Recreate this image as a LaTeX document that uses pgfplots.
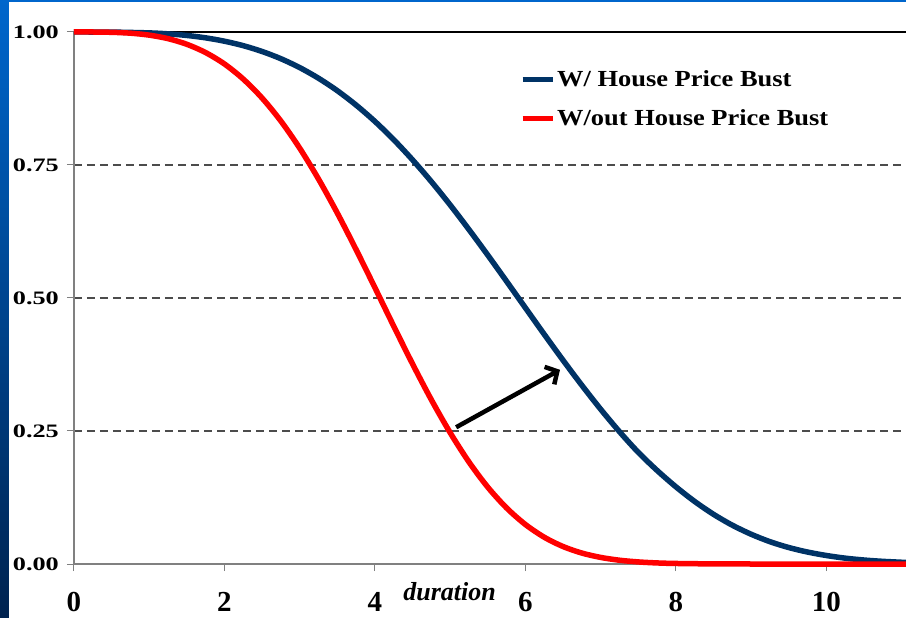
\documentclass[border=0pt]{standalone}
\usepackage{fontspec}
\setmainfont{Liberation Serif}
\usepackage{graphicx}
\usepackage{pgfplots}
\pgfplotsset{compat=1.18}
\usetikzlibrary{arrows.meta}
\definecolor{bustblue}{RGB}{0,51,102}
\definecolor{bustred}{RGB}{255,0,0}
\definecolor{slideblue}{RGB}{0,102,204}
\definecolor{slidedark}{RGB}{0,35,80}
\begin{document}
\begin{tikzpicture}
\fill[white] (-74bp,-54bp) rectangle (832bp,564bp);
\shade[top color=slideblue, bottom color=slidedark] (-74bp,-54bp) rectangle (-65bp,564bp);
\fill[slideblue] (-74bp,562bp) rectangle (832bp,564bp);
\begin{axis}[
  at={(0,0)}, anchor=south west,
  scale only axis, width=832bp, height=532bp,
  xmin=0, xmax=11.06, ymin=0, ymax=1,
  clip=false,
  axis x line*=bottom, axis y line*=left,
  axis line style={-, draw=gray, line width=1.5bp},
  xtick={0,2,4,6,8,10}, ytick={0,0.25,0.5,0.75,1},
  tick align=outside, major tick length=7bp,
  tick style={draw=gray, line width=1bp},
  ymajorgrids,
  grid style={dash pattern=on 8bp off 5bp, draw=black!70, line width=1.3bp},
  /pgf/number format/assume math mode=true,
  yticklabel={\scalebox{1.38}[1]{\pgfmathprintnumber[fixed,fixed zerofill,precision=2]{\tick}}},
  yticklabel style={font=\fontsize{19bp}{19bp}\selectfont\bfseries, anchor=east, inner sep=0pt, xshift=-8bp},
  xticklabel style={font=\fontsize{29bp}{29bp}\selectfont\bfseries, anchor=base, inner sep=0pt, yshift=-40bp},
  xlabel={\textit{duration}},
  xlabel style={at={(rel axis cs:0.4515,0)}, anchor=base, inner sep=0pt, yshift=-36bp, font=\fontsize{26bp}{26bp}\selectfont\bfseries},
  legend cell align=left,
  legend style={at={(rel axis cs:0.536,0.932)}, anchor=north west, draw=none, fill=none, inner sep=0pt,
    font=\fontsize{23bp}{23bp}\selectfont\bfseries, row sep=18bp},
  legend image code/.code={\draw[line width=5bp] (0bp,0bp) -- (30bp,0bp);},
]
\draw[black, line width=1.8bp] (axis cs:0,1) -- (axis cs:11.06,1);
\addplot[color=bustblue, line width=5.5bp, smooth] coordinates {
(0,1)(0.5,0.9998)(1,0.9983)(1.25,0.9965)(1.5,0.9935)(1.75,0.9890)(2,0.9827)(2.25,0.9743)(2.5,0.9634)(2.75,0.9498)(3,0.9331)(3.25,0.9131)(3.5,0.8897)(3.75,0.8626)(4,0.8319)(4.25,0.7976)(4.5,0.7597)(4.75,0.7188)(5,0.6750)(5.25,0.6287)(5.5,0.5807)(5.75,0.5314)(6,0.4816)(6.25,0.4319)(6.5,0.3832)(6.75,0.3361)(7,0.2911)(7.25,0.2489)(7.5,0.2100)(7.75,0.1760)(8,0.1452)(8.25,0.1176)(8.5,0.0935)(8.75,0.0730)(9,0.0560)(9.25,0.0420)(9.5,0.0310)(9.75,0.0225)(10,0.0160)(10.25,0.0110)(10.5,0.0075)(10.75,0.0050)(11.06,0.0029)
};
\addlegendentry{\scalebox{1.15}[1]{W/ House Price Bust}}
\addplot[color=bustred, line width=5.5bp, smooth] coordinates {
(0,1)(0.25,1)(0.5,0.9994)(0.75,0.9978)(1,0.9941)(1.25,0.9875)(1.5,0.9769)(1.75,0.9613)(2,0.9399)(2.25,0.9115)(2.5,0.8759)(2.75,0.8326)(3,0.7817)(3.25,0.7237)(3.5,0.6597)(3.75,0.5910)(4,0.5195)(4.25,0.4471)(4.5,0.3762)(4.75,0.3088)(5,0.2469)(5.25,0.1918)(5.5,0.1445)(5.75,0.1054)(6,0.0743)(6.25,0.0504)(6.5,0.0329)(6.75,0.0206)(7,0.0124)(7.25,0.0071)(7.5,0.0039)(7.75,0.0020)(8,0.0010)(8.5,0.0002)(9,0)(10,0)(11.06,0)
};
\addlegendentry{\scalebox{1.15}[1]{W/out House Price Bust}}
\draw[black, line width=4.5bp, -{Straight Barb[length=9bp, width=20bp]}] (axis cs:5.08,0.257) -- (axis cs:6.46,0.365);
\end{axis}
\pgfresetboundingbox
\path[use as bounding box] (-74bp,-54bp) rectangle (832bp,564bp);
\end{tikzpicture}
\end{document}
